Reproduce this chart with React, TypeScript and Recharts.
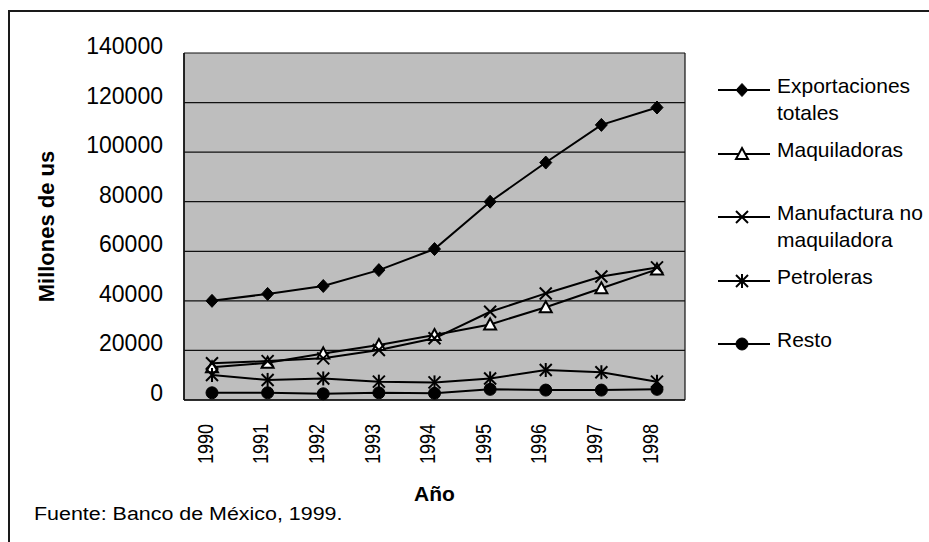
import React from 'react';
import { LineChart, Line, XAxis, YAxis, CartesianGrid, Legend } from 'recharts';

const years = ['1990', '1991', '1992', '1993', '1994', '1995', '1996', '1997', '1998'];
const exportacionesTotales = [40000, 42800, 46000, 52400, 60900, 80000, 95800, 111000, 118000];
const maquiladoras = [13200, 15000, 18800, 22200, 26200, 30500, 37400, 45100, 52700];
const manufacturaNoMaquiladora = [14800, 15700, 16800, 20200, 24900, 35600, 43000, 49800, 53500];
const petroleras = [10100, 8100, 8700, 7400, 7100, 8700, 12100, 11200, 7400];
const resto = [2900, 2900, 2500, 2900, 2700, 4300, 4000, 4000, 4300];
const yTicks = [0, 20000, 40000, 60000, 80000, 100000, 120000, 140000];

const data = years.map((year, i) => ({
  year,
  exportaciones: exportacionesTotales[i],
  maquiladoras: maquiladoras[i],
  manufactura: manufacturaNoMaquiladora[i],
  petroleras: petroleras[i],
  resto: resto[i],
}));

const FONT = '"Liberation Sans", Arial, Helvetica, sans-serif';

type Shape = 'diamond' | 'triangle' | 'cross' | 'star' | 'circle';

const series: { key: string; name: string; shape: Shape }[] = [
  { key: 'exportaciones', name: 'Exportaciones totales', shape: 'diamond' },
  { key: 'maquiladoras', name: 'Maquiladoras', shape: 'triangle' },
  { key: 'manufactura', name: 'Manufactura no maquiladora', shape: 'cross' },
  { key: 'petroleras', name: 'Petroleras', shape: 'star' },
  { key: 'resto', name: 'Resto', shape: 'circle' },
];

function Marker({ shape, cx, cy }: { shape: Shape; cx: number; cy: number }) {
  if (cx == null || cy == null || isNaN(cx) || isNaN(cy)) return <g />;
  const s = 6;
  switch (shape) {
    case 'diamond':
      return (
        <polygon
          points={`${cx},${cy - s - 0.5} ${cx + s},${cy} ${cx},${cy + s + 0.5} ${cx - s},${cy}`}
          fill="#000"
          stroke="#000"
          strokeWidth={1}
        />
      );
    case 'triangle':
      return (
        <polygon
          points={`${cx},${cy - s} ${cx + s},${cy + 5} ${cx - s},${cy + 5}`}
          fill="#fff"
          stroke="#000"
          strokeWidth={2}
        />
      );
    case 'cross':
      return (
        <g stroke="#000" strokeWidth={2}>
          <line x1={cx - s} y1={cy - s} x2={cx + s} y2={cy + s} />
          <line x1={cx - s} y1={cy + s} x2={cx + s} y2={cy - s} />
        </g>
      );
    case 'star':
      return (
        <g stroke="#000" strokeWidth={2}>
          <line x1={cx - s} y1={cy - s} x2={cx + s} y2={cy + s} />
          <line x1={cx - s} y1={cy + s} x2={cx + s} y2={cy - s} />
          <line x1={cx} y1={cy - s - 1} x2={cx} y2={cy + s + 1} />
        </g>
      );
    case 'circle':
    default:
      return <circle cx={cx} cy={cy} r={6} fill="#000" stroke="#000" strokeWidth={1} />;
  }
}

const YTick = (props: any) => {
  const { x, y, payload } = props;
  return (
    <text
      x={x}
      y={y - 7}
      textAnchor="end"
      dominantBaseline="central"
      fontSize={23}
      fontFamily={FONT}
      fill="#000"
    >
      {payload.value}
    </text>
  );
};

const XTick = (props: any) => {
  const { x, y, payload } = props;
  return (
    <text
      transform={`translate(${x - 7},${y}) rotate(-90) scale(1,1.25)`}
      textAnchor="end"
      dominantBaseline="central"
      fontSize={18}
      fontFamily={FONT}
      fill="#000"
    >
      {payload.value}
    </text>
  );
};

const renderLegend = (props: any) => {
  const payload: any[] = props.payload || [];
  const ordered = series.map((s) => ({
    s,
    entry: payload.find((p: any) => p.value === s.name || p.dataKey === s.key),
  })).filter((o) => o.entry);
  return (
    <div style={{ fontFamily: FONT, fontSize: 21, color: '#000' }}>
      {ordered.map(({ s, entry }, i: number) => (
        <div key={i} style={{ position: 'relative', height: 63.5 }}>
          <svg width={58} height={27} style={{ position: 'absolute', left: 0, top: 0 }}>
            <line x1={2} x2={54} y1={18} y2={18} stroke="#000" strokeWidth={2} />
            <Marker shape={s.shape} cx={26} cy={18} />
          </svg>
          <div style={{ position: 'absolute', left: 61, top: 0, width: 155, lineHeight: '27px' }}>
            {entry.value}
          </div>
        </div>
      ))}
    </div>
  );
};

const YLabel = (props: any) => {
  const vb = props.viewBox || { x: 0, y: 53, width: 184, height: 347 };
  const cx = vb.x + 46;
  const cy = vb.y + vb.height / 2;
  return (
    <text
      x={cx}
      y={cy}
      transform={`rotate(-90, ${cx}, ${cy})`}
      textAnchor="middle"
      dominantBaseline="central"
      fontSize={22}
      fontWeight="bold"
      fontFamily={FONT}
      fill="#000"
    >
      Millones de us
    </text>
  );
};

const XLabel = (props: any) => {
  const vb = props.viewBox || { x: 184, y: 400, width: 501, height: 100 };
  return (
    <text
      x={vb.x + vb.width / 2}
      y={vb.y + 93}
      textAnchor="middle"
      dominantBaseline="central"
      fontSize={21}
      fontWeight="bold"
      fontFamily={FONT}
      fill="#000"
    >
      Año
    </text>
  );
};

export default function App() {
  return (
    <div style={{ position: 'absolute', left: 0, top: 0, width: 929, height: 542, background: '#fff', overflow: 'hidden' }}>
      <div
        style={{
          position: 'absolute',
          left: 8,
          top: 10,
          width: 940,
          height: 560,
          borderTop: '2px solid #1a1a1a',
          borderLeft: '2px solid #1a1a1a',
          boxSizing: 'border-box',
        }}
      />
      <div style={{ position: 'absolute', left: 0, top: 0 }}>
        <LineChart
          width={929}
          height={542}
          data={data}
          margin={{ top: 53, right: 244, bottom: 42, left: 0 }}
        >
          <CartesianGrid
            fill="#bebebe"
            fillOpacity={1}
            stroke="#111"
            strokeWidth={1.2}
            verticalCoordinatesGenerator={({ offset }: any) => [offset.left, offset.left + offset.width]}
          />
          <XAxis
            dataKey="year"
            padding={{ left: 28, right: 28 }}
            height={100}
            tickSize={0}
            tickMargin={24}
            tickLine={false}
            axisLine={{ stroke: '#111', strokeWidth: 1.5 }}
            tick={<XTick />}
            interval={0}
            label={<XLabel />}
          />
          <YAxis
            width={184}
            domain={[0, 140000]}
            ticks={yTicks}
            tickSize={0}
            tickMargin={21}
            tickLine={false}
            axisLine={{ stroke: '#111', strokeWidth: 1.5 }}
            tick={<YTick />}
            interval={0}
            label={<YLabel />}
          />
          <Legend
            layout="vertical"
            align="center"
            verticalAlign="middle"
            content={renderLegend}
            wrapperStyle={{ left: 716, top: 72, width: 213 }}
          />
          {series.map((s) => (
            <Line
              key={s.key}
              type="linear"
              dataKey={s.key}
              name={s.name}
              stroke="#000"
              strokeWidth={2}
              isAnimationActive={false}
              dot={(p: any) => <Marker key={`${s.key}-${p.index}`} shape={s.shape} cx={p.cx} cy={p.cy} />}
              activeDot={false}
            />
          ))}
        </LineChart>
      </div>
      <div
        style={{
          position: 'absolute',
          left: 34,
          top: 505,
          fontFamily: FONT,
          fontSize: 18,
          lineHeight: '18px',
          color: '#000',
          whiteSpace: 'nowrap',
          transform: 'scaleX(1.19)',
          transformOrigin: 'left top',
        }}
      >
        Fuente: Banco de México, 1999.
      </div>
    </div>
  );
}
